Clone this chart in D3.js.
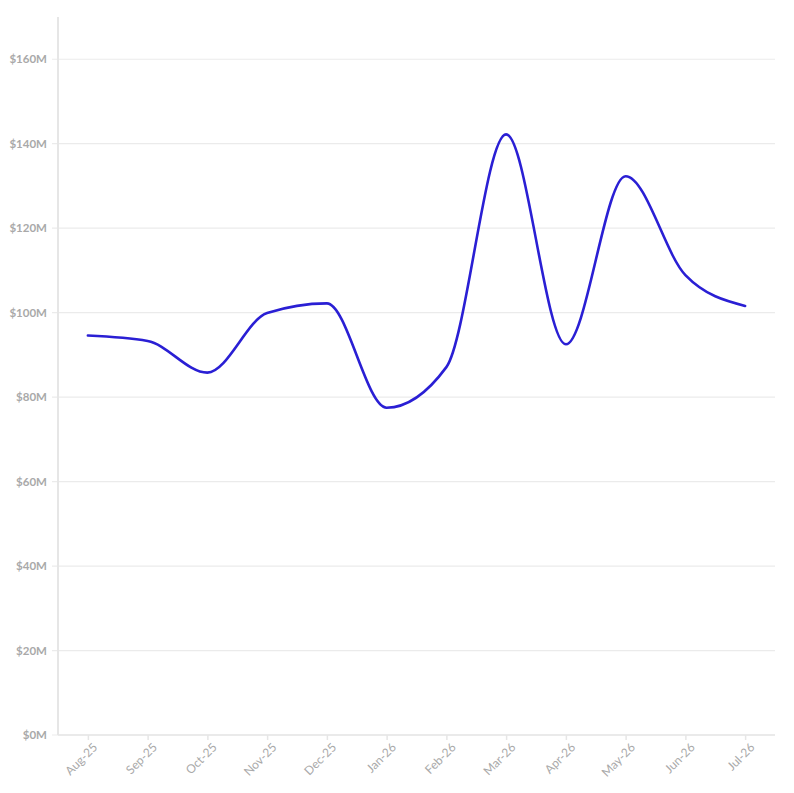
<!DOCTYPE html>
<html>
  <head>
    <style>
      body { margin: 0; background: #fff; }
      .tick text { font-family: Lato, "Open Sans", sans-serif; fill: #a9a9a9; }
      .y-axis .tick text { font-weight: bold; font-size: 11.5px; }
      .x-axis .tick text { font-size: 12px; }
    </style>
    <script src="https://d3js.org/d3.v7.min.js"></script>
  </head>
  <body>
    <svg width="794" height="793"></svg>
    <script>
      var months = ["Aug-25", "Sep-25", "Oct-25", "Nov-25", "Dec-25", "Jan-26",
                    "Feb-26", "Mar-26", "Apr-26", "May-26", "Jun-26", "Jul-26"];
      var values = [94.6, 93.3, 85.8, 99.9, 102.2, 77.5, 87.1, 142.2, 92.5, 132.3, 108.9, 101.6];
      var yTicks = [0, 20, 40, 60, 80, 100, 120, 140, 160];

      var svg = d3.select("svg"),
        margin = { top: 17, right: 19, bottom: 58, left: 58 },
        width = +svg.attr("width") - margin.left - margin.right,
        height = +svg.attr("height") - margin.top - margin.bottom;

      var g = svg.append("g")
        .attr("transform", "translate(" + margin.left + "," + margin.top + ")");

      var x = d3.scalePoint().domain(months).range([0, width]).padding(0.5);
      var y = d3.scaleLinear().domain([0, 170]).range([height, 0]);

      // gridlines
      g.append("g")
        .selectAll("line")
        .data(yTicks)
        .enter()
        .append("line")
        .attr("x1", -6)
        .attr("x2", width)
        .attr("y1", function (d) { return y(d); })
        .attr("y2", function (d) { return y(d); })
        .attr("stroke", "#ebebeb")
        .attr("stroke-width", 1.2);

      var yAxis = g.append("g")
        .attr("class", "y-axis")
        .call(d3.axisLeft(y).tickValues(yTicks).tickSize(0).tickPadding(11)
          .tickFormat(function (d) { return "$" + d + "M"; }));
      yAxis.select(".domain").remove();

      g.append("line")
        .attr("x1", 0).attr("x2", 0)
        .attr("y1", 0).attr("y2", height)
        .attr("stroke", "#e6e6e6")
        .attr("stroke-width", 2);

      var xAxis = g.append("g")
        .attr("class", "x-axis")
        .attr("transform", "translate(0," + height + ")")
        .call(d3.axisBottom(x).tickSize(5).tickPadding(4));
      xAxis.select(".domain").attr("stroke", "#e6e6e6").attr("stroke-width", 1.5)
        .attr("d", "M0,0H" + width);
      xAxis.selectAll(".tick line").attr("stroke", "#e6e6e6").attr("stroke-width", 1.5);
      xAxis.selectAll(".tick text")
        .attr("text-anchor", "end")
        .attr("dx", "-0.2em")
        .attr("dy", "0.6em")
        .attr("transform", "rotate(-45)");

      var line = d3.line()
        .x(function (d, i) { return x(months[i]); })
        .y(function (d) { return y(d); })
        .curve(d3.curveMonotoneX);

      g.append("path")
        .datum(values)
        .attr("fill", "none")
        .attr("stroke", "#2a1fd4")
        .attr("stroke-width", 2.6)
        .attr("stroke-linejoin", "round")
        .attr("stroke-linecap", "round")
        .attr("d", line);
    </script>
  </body>
</html>
